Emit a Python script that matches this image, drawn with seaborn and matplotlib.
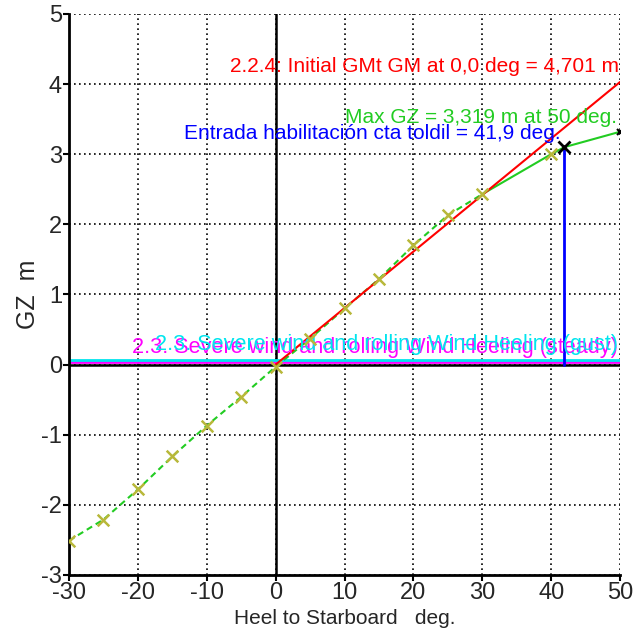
import numpy as np
import pandas as pd
import matplotlib
matplotlib.use("Agg")
import matplotlib.pyplot as plt
import seaborn as sns

# GZ curve (heel deg, GZ m)
heel = [-30, -25, -20, -15, -10, -5, 0, 5, 10, 15, 20, 25, 30, 40, 41.9, 50]
gz = [-2.51, -2.21, -1.78, -1.31, -0.87, -0.46, -0.03, 0.37, 0.80, 1.22, 1.70, 2.13, 2.43, 3.00, 3.10, 3.32]
marker_heel = [-30, -25, -20, -15, -10, -5, 0, 5, 10, 15, 20, 25, 30, 40]
marker_gz = [-2.51, -2.21, -1.78, -1.31, -0.87, -0.46, -0.03, 0.37, 0.80, 1.22, 1.70, 2.13, 2.43, 3.00]

# initial GM line
gm_heel = [0, 50]
gm_gz = [0, 4.03]

# wind heeling levers
steady_lever = 0.04
gust_lever = 0.065
downflood = 41.9
downflood_gz = 3.10

sns.set_theme(style="ticks")
plt.rcParams['font.family'] = ['Liberation Sans', 'DejaVu Sans']
plt.rcParams['axes.unicode_minus'] = False

fig = plt.figure(figsize=(6.36, 6.32), dpi=100)
ax = fig.add_axes([0.1085, 0.0902, 0.8665, 0.8878])

df = pd.DataFrame({'heel': heel, 'gz': gz})
dashed = df[df.heel <= 30]
solid = df[df.heel >= 30]

green = '#22cc22'
ax.grid(True, color='black', linestyle=(0, (1, 2)), linewidth=1.2)
ax.axhline(0, color='black', lw=1.8, zorder=2)
ax.axvline(0, color='black', lw=1.8, zorder=2)

# wind lines
sns.lineplot(x=[-30, 50], y=[steady_lever, steady_lever], color='#ff00ff', lw=2, ax=ax)
sns.lineplot(x=[-30, 50], y=[gust_lever, gust_lever], color='#00e5ee', lw=2, ax=ax)

sns.lineplot(data=dashed, x='heel', y='gz', color=green, lw=1.5, ax=ax, linestyle=(0, (3, 2)))
sns.lineplot(data=solid, x='heel', y='gz', color=green, lw=1.5, ax=ax)
sns.lineplot(x=gm_heel, y=gm_gz, color='#ff0000', lw=1.5, ax=ax)
sns.scatterplot(x=marker_heel, y=marker_gz, marker='x', s=70, color='#b8b83a', linewidth=1.8, ax=ax, zorder=5)

# downflooding
ax.plot([downflood, downflood], [0, downflood_gz], color='#0000ff', lw=2)
ax.plot([downflood], [downflood_gz], marker='x', color='black', ms=8, mew=2)
ax.plot([50], [3.32], marker='x', color='black', ms=5, mew=1.5)

fs = 15
ax.text(49.9, 4.25, '2.2.4: Initial GMt GM at 0,0 deg = 4,701 m', color='#ff0000', ha='right', va='center', fontsize=fs)
ax.text(49.6, 3.53, 'Max GZ = 3,319 m at 50 deg.', color='#22cc22', ha='right', va='center', fontsize=fs)
ax.text(41.3, 3.3, 'Entrada habilitación cta toldil = 41,9 deg.', color='#0000ff', ha='right', va='center', fontsize=fs)
ax.text(49.7, 0.24, '2.3. Severe wind and rolling Wind Heeling (steady)', color='#ff00ff', ha='right', va='center', fontsize=15.6)
ax.text(49.7, 0.28, '2.3. Severe wind and rolling Wind Heeling (gust)', color='#00e5ee', ha='right', va='center', fontsize=15.6)

ax.set_xlim(-30, 50)
ax.set_ylim(-3, 5)
ax.set_xticks(range(-30, 51, 10))
ax.set_yticks(range(-3, 6))
ax.tick_params(labelsize=17, length=4, width=1.5, color='black', pad=1)
ax.set_xlabel('Heel to Starboard   deg.', fontsize=15, labelpad=4)
ax.set_ylabel('GZ  m', fontsize=18, labelpad=1)
for s in ['top', 'right']:
    ax.spines[s].set_visible(False)
for s in ['left', 'bottom']:
    ax.spines[s].set_color('black')
    ax.spines[s].set_linewidth(2)

fig.savefig('out.png', dpi=100)
